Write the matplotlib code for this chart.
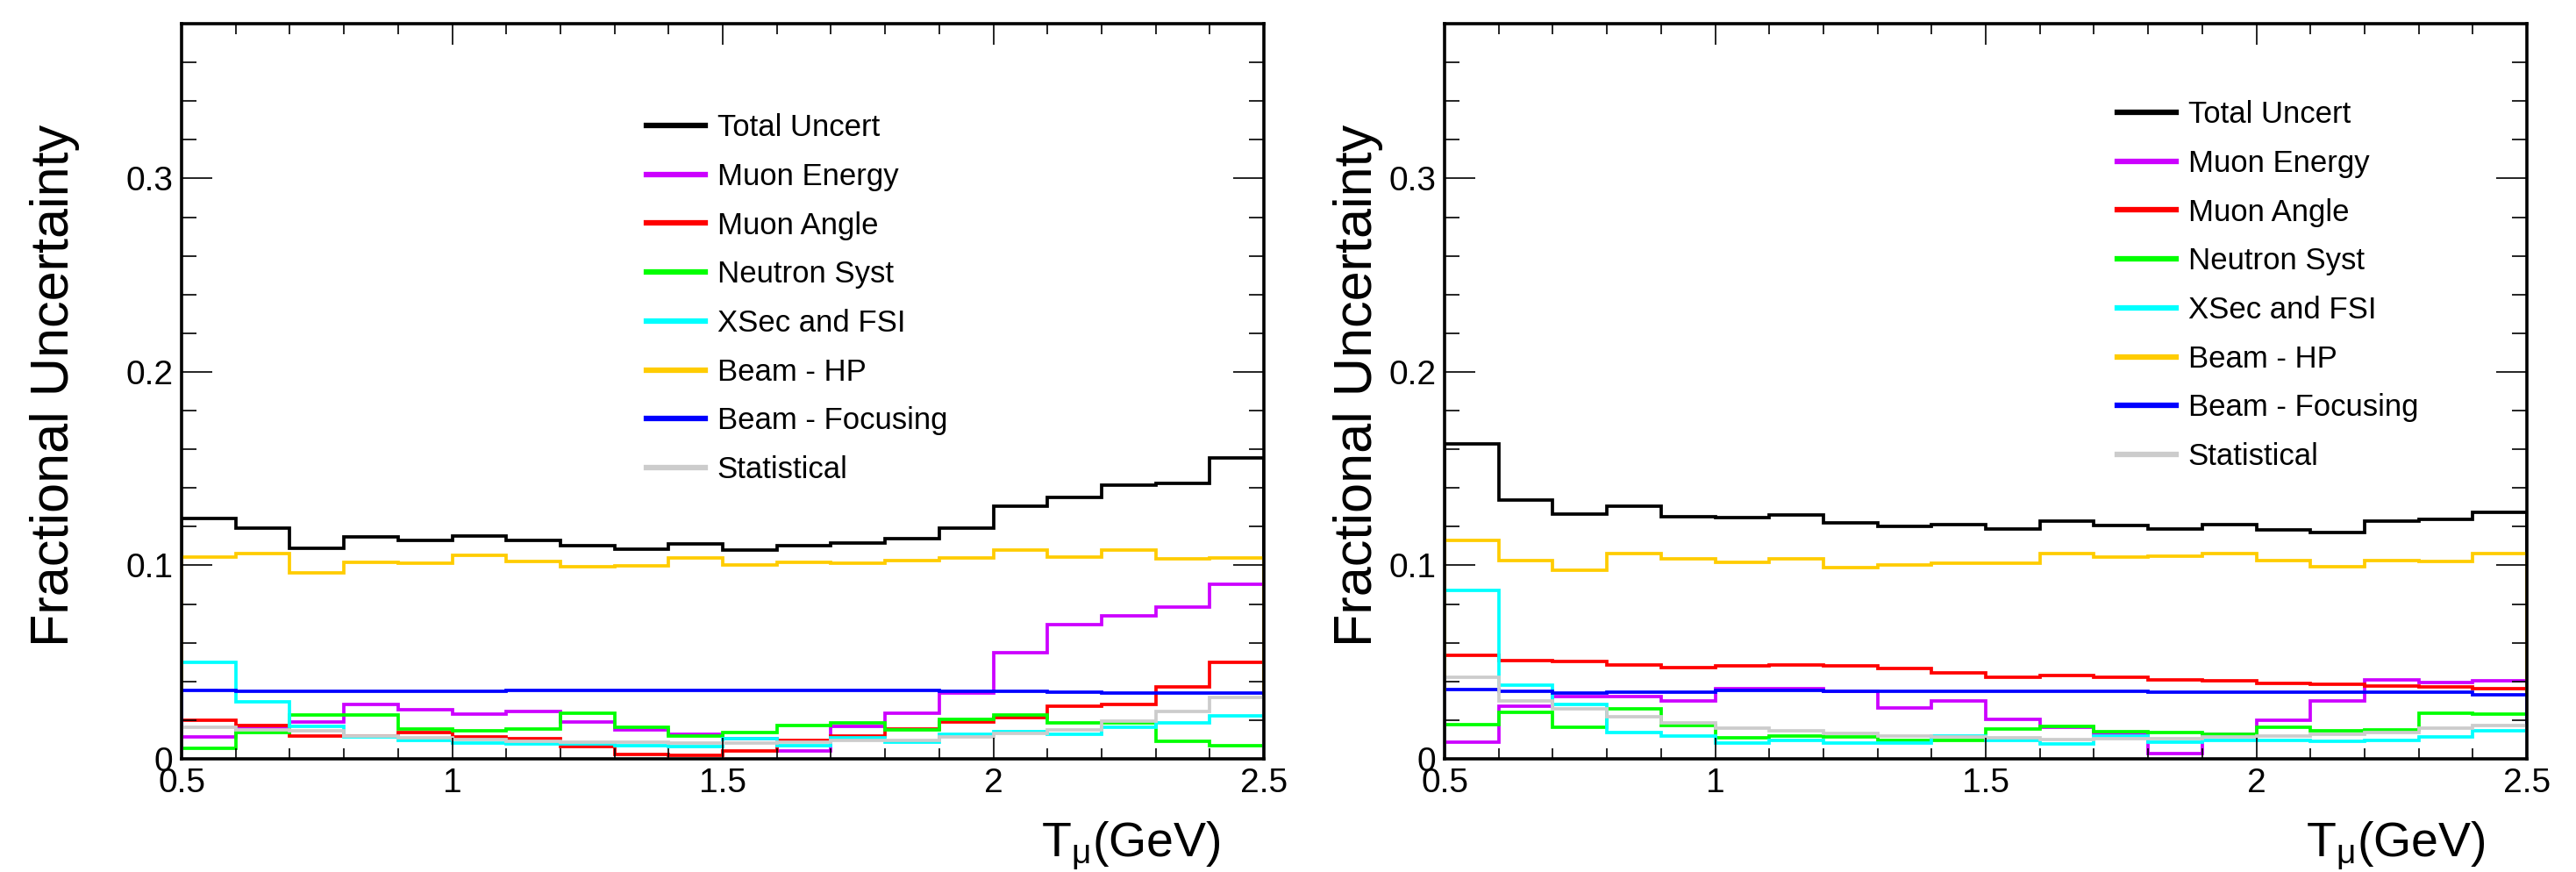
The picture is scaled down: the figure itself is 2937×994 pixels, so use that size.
import numpy as np
import matplotlib
matplotlib.use("Agg")
import matplotlib.pyplot as plt
from matplotlib.ticker import MultipleLocator, FixedLocator, FixedFormatter
from matplotlib.lines import Line2D

plt.rcParams['font.family'] = ['Liberation Sans', 'DejaVu Sans']
plt.rcParams['mathtext.fontset'] = 'custom'
plt.rcParams['mathtext.rm'] = 'Liberation Sans'
plt.rcParams['mathtext.it'] = 'Liberation Sans:italic'

# ---------------- data ----------------
bin_edges = np.round(np.arange(0.5, 2.5001, 0.1), 2)

labels = ["Total Uncert", "Muon Energy", "Muon Angle", "Neutron Syst",
          "XSec and FSI", "Beam - HP", "Beam - Focusing", "Statistical"]
colors = ["#000000", "#CC00FF", "#FF0000", "#00FF00",
          "#00FFFF", "#FFCC00", "#0000FF", "#CCCCCC"]

# left panel
total_L = [0.1242, 0.1194, 0.1088, 0.1148, 0.1129, 0.1154, 0.1129, 0.1101, 0.1086, 0.1113,
           0.1077, 0.1104, 0.1117, 0.1138, 0.1192, 0.1307, 0.1352, 0.1413, 0.1423, 0.1556]
muonE_L = [0.0112, 0.0160, 0.0191, 0.0282, 0.0255, 0.0232, 0.0244, 0.0191, 0.0150, 0.0128,
           0.0103, 0.0040, 0.0169, 0.0237, 0.0338, 0.0547, 0.0693, 0.0740, 0.0784, 0.0902]
muonA_L = [0.0199, 0.0173, 0.0120, 0.0117, 0.0134, 0.0113, 0.0105, 0.0063, 0.0022, 0.0017,
           0.0043, 0.0093, 0.0119, 0.0153, 0.0191, 0.0214, 0.0270, 0.0279, 0.0370, 0.0498]
neutron_L = [0.0055, 0.0138, 0.0226, 0.0226, 0.0153, 0.0146, 0.0156, 0.0237, 0.0161, 0.0116,
             0.0134, 0.0173, 0.0188, 0.0149, 0.0203, 0.0226, 0.0184, 0.0184, 0.0090, 0.0066]
xsec_L = [0.0500, 0.0294, 0.0166, 0.0115, 0.0093, 0.0081, 0.0078, 0.0078, 0.0067, 0.0063,
          0.0105, 0.0070, 0.0108, 0.0085, 0.0128, 0.0140, 0.0126, 0.0161, 0.0184, 0.0221]
beamHP_L = [0.1042, 0.1060, 0.0962, 0.1015, 0.1012, 0.1052, 0.1021, 0.0992, 0.0997, 0.1038,
            0.1000, 0.1018, 0.1011, 0.1027, 0.1038, 0.1078, 0.1045, 0.1081, 0.1033, 0.1040]
beamFoc_L = [0.0355, 0.0349, 0.0349, 0.0350, 0.0350, 0.0351, 0.0352, 0.0355, 0.0355, 0.0355,
             0.0355, 0.0355, 0.0355, 0.0352, 0.0349, 0.0349, 0.0346, 0.0342, 0.0342, 0.0339]
stat_L = [0.0161, 0.0150, 0.0146, 0.0116, 0.0108, 0.0101, 0.0090, 0.0088, 0.0085, 0.0082,
          0.0082, 0.0085, 0.0093, 0.0097, 0.0113, 0.0131, 0.0150, 0.0196, 0.0244, 0.0317]

# right panel
total_R = [0.1630, 0.1338, 0.1264, 0.1308, 0.1252, 0.1248, 0.1260, 0.1219, 0.1200, 0.1211,
           0.1187, 0.1230, 0.1204, 0.1190, 0.1211, 0.1184, 0.1172, 0.1230, 0.1237, 0.1275]
muonE_R = [0.0085, 0.0271, 0.0324, 0.0324, 0.0298, 0.0365, 0.0362, 0.0350, 0.0264, 0.0301,
           0.0206, 0.0165, 0.0125, 0.0026, 0.0125, 0.0200, 0.0301, 0.0410, 0.0395, 0.0405]
muonA_R = [0.0535, 0.0508, 0.0502, 0.0485, 0.0470, 0.0481, 0.0487, 0.0479, 0.0467, 0.0445,
           0.0422, 0.0429, 0.0421, 0.0408, 0.0405, 0.0392, 0.0384, 0.0377, 0.0372, 0.0362]
neutron_R = [0.0176, 0.0241, 0.0165, 0.0259, 0.0173, 0.0108, 0.0120, 0.0115, 0.0097, 0.0097,
             0.0153, 0.0168, 0.0140, 0.0135, 0.0128, 0.0165, 0.0143, 0.0150, 0.0236, 0.0229]
xsec_R = [0.0870, 0.0380, 0.0282, 0.0135, 0.0117, 0.0082, 0.0094, 0.0082, 0.0082, 0.0120,
          0.0093, 0.0078, 0.0120, 0.0087, 0.0094, 0.0097, 0.0090, 0.0097, 0.0112, 0.0145]
beamHP_R = [0.1131, 0.1027, 0.0977, 0.1059, 0.1033, 0.1015, 0.1036, 0.0988, 0.1003, 0.1011,
            0.1009, 0.1063, 0.1045, 0.1048, 0.1063, 0.1023, 0.0993, 0.1026, 0.1021, 0.1061]
beamFoc_R = [0.0360, 0.0351, 0.0339, 0.0345, 0.0345, 0.0354, 0.0354, 0.0351, 0.0351, 0.0351,
             0.0351, 0.0351, 0.0351, 0.0346, 0.0345, 0.0344, 0.0343, 0.0343, 0.0343, 0.0330]
stat_R = [0.0420, 0.0298, 0.0260, 0.0218, 0.0188, 0.0158, 0.0143, 0.0131, 0.0116, 0.0112,
          0.0109, 0.0100, 0.0105, 0.0105, 0.0112, 0.0116, 0.0125, 0.0135, 0.0158, 0.0173]

series_L = [total_L, muonE_L, muonA_L, neutron_L, xsec_L, beamHP_L, beamFoc_L, stat_L]
series_R = [total_R, muonE_R, muonA_R, neutron_R, xsec_R, beamHP_R, beamFoc_R, stat_R]

xticks = [0.5, 1.0, 1.5, 2.0, 2.5]
xticklabels = ["0.5", "1", "1.5", "2", "2.5"]
yticks = [0.0, 0.1, 0.2, 0.3]
yticklabels = ["0", "0.1", "0.2", "0.3"]
ylabel = "Fractional Uncertainty"
xlabel = r"T$_{\mathregular{\mu}}$(GeV)"

# ---------------- layout ----------------
W, H = 2937, 994
fig = plt.figure(figsize=(W / 100, H / 100), dpi=100)

def px_axes(x0, x1, ytop, ybot):
    return [x0 / W, 1 - ybot / H, (x1 - x0) / W, (ybot - ytop) / H]

axL = fig.add_axes(px_axes(207, 1441, 27, 865))
axR = fig.add_axes(px_axes(1647, 2881, 27, 865))

def draw(ax, series, leg_anchor, ylab_x, xlab_x):
    for vals, col, lab in zip(series, colors, labels):
        ax.stairs(vals, bin_edges, baseline=0, color=col, lw=2.7, label=lab)
    ax.set_xlim(0.5, 2.5)
    ax.set_ylim(0, 0.38)
    ax.xaxis.set_major_locator(FixedLocator(xticks))
    ax.xaxis.set_major_formatter(FixedFormatter(xticklabels))
    ax.yaxis.set_major_locator(FixedLocator(yticks))
    ax.yaxis.set_major_formatter(FixedFormatter(yticklabels))
    ax.xaxis.set_minor_locator(MultipleLocator(0.1))
    ax.yaxis.set_minor_locator(MultipleLocator(0.02))
    ax.tick_params(which='both', direction='in', top=True, right=True,
                   width=1.2, color='black', labelsize=28)
    ax.tick_params(axis='x', which='major', length=17, pad=7)
    ax.tick_params(axis='x', which='minor', length=8.5)
    ax.tick_params(axis='y', which='major', length=25, pad=7)
    ax.tick_params(axis='y', which='minor', length=12.5)
    for s in ax.spines.values():
        s.set_linewidth(2.6)
        s.set_zorder(5)
    ax.set_ylabel(ylabel, fontsize=44)
    ax.yaxis.set_label_coords(ylab_x, 0.508)
    ax.yaxis.label.set_va('center')
    ax.set_xlabel(xlabel, fontsize=40, loc='right')
    ax.xaxis.set_label_coords(xlab_x, -0.1331)
    ax.xaxis.label.set_va('baseline')
    handles = [Line2D([], [], color=c, lw=4.5) for c in colors]
    ax.legend(handles, labels, loc='upper left', bbox_to_anchor=leg_anchor,
              frameon=False, fontsize=25, handlelength=1.92, handletextpad=0.4,
              labelspacing=0.654, borderpad=0, borderaxespad=0)

draw(axL, series_L, (0.4295, 0.878), -0.1175, 0.9603)
draw(axR, series_R, (0.6216, 0.896), -0.0802, 0.9619)

fig.savefig("out.png", dpi=100)
